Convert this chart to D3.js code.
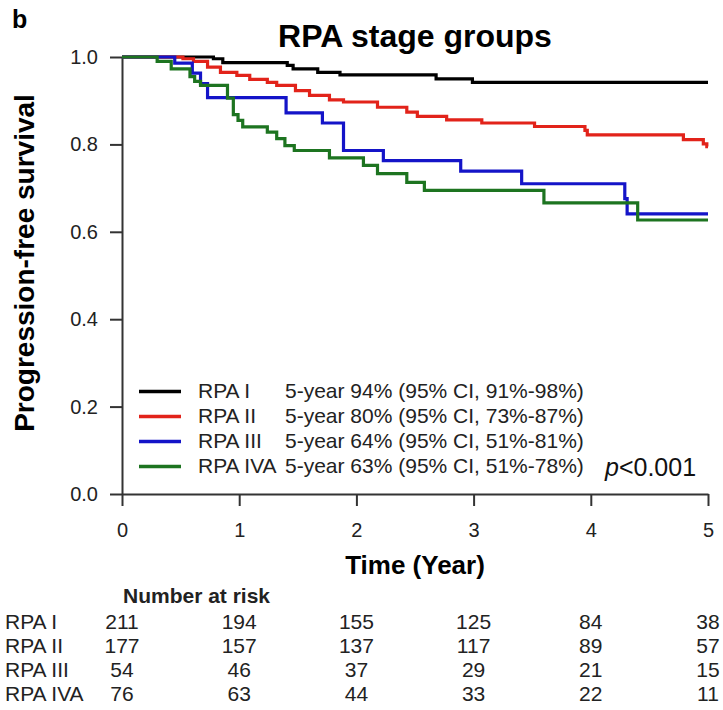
<!DOCTYPE html>
<html>
<head>
<meta charset="utf-8">
<script src="https://cdn.jsdelivr.net/npm/d3@7"></script>
<style>
  body { margin: 0; background: #fff; }
  svg { font-family: "Liberation Sans", Arial, sans-serif; }
  .axis path, .axis line { stroke: #333; stroke-width: 2; }
  .axis text { font-size: 20px; fill: #222; }
</style>
</head>
<body>
<div id="chart"></div>
<script>
// Kaplan-Meier steps: time (years) and survival
const groups = ["RPA I", "RPA II", "RPA III", "RPA IVA"];
const colors = ["#000000", "#e2231a", "#1414c8", "#1d7420"];

const rpa1Time = [0, 0.78, 0.86, 1.41, 1.46, 1.67, 1.86, 2.68, 2.99, 5];
const rpa1Surv = [1, 0.996, 0.987, 0.981, 0.973, 0.965, 0.959, 0.950, 0.942, 0.942];

const rpa2Time = [0, 0.52, 0.61, 0.73, 0.84, 0.98, 1.09, 1.24, 1.32, 1.48, 1.60, 1.77, 1.89, 2.18, 2.43, 2.52, 2.77, 3.07, 3.52, 3.95, 3.97, 4.79, 4.96, 4.99, 5];
const rpa2Surv = [1, 0.996, 0.990, 0.977, 0.965, 0.958, 0.949, 0.942, 0.935, 0.923, 0.912, 0.902, 0.897, 0.885, 0.874, 0.864, 0.856, 0.849, 0.841, 0.832, 0.822, 0.811, 0.801, 0.795, 0.795];

const rpa3Time = [0, 0.45, 0.60, 0.67, 0.73, 1.40, 1.71, 1.89, 2.23, 2.89, 3.41, 4.29, 4.31, 5];
const rpa3Surv = [1, 0.986, 0.963, 0.939, 0.907, 0.872, 0.849, 0.786, 0.763, 0.739, 0.710, 0.676, 0.641, 0.641];

const rpa4Time = [0, 0.30, 0.42, 0.58, 0.62, 0.67, 0.90, 0.95, 0.99, 1.03, 1.24, 1.32, 1.39, 1.47, 1.77, 2.06, 2.18, 2.43, 2.58, 3.60, 4.40, 5];
const rpa4Surv = [1, 0.990, 0.973, 0.955, 0.944, 0.935, 0.906, 0.868, 0.855, 0.840, 0.828, 0.813, 0.797, 0.786, 0.769, 0.752, 0.733, 0.713, 0.695, 0.666, 0.627, 0.627];

const legendText = [
  "5-year 94% (95% CI, 91%-98%)",
  "5-year 80% (95% CI, 73%-87%)",
  "5-year 64% (95% CI, 51%-81%)",
  "5-year 63% (95% CI, 51%-78%)"
];

// Number at risk
const years = [0, 1, 2, 3, 4, 5];
const yTicks = [0, 0.2, 0.4, 0.6, 0.8, 1.0];
const riskRPA1 = [211, 194, 155, 125, 84, 38];
const riskRPA2 = [177, 157, 137, 117, 89, 57];
const riskRPA3 = [54, 46, 37, 29, 21, 15];
const riskRPA4 = [76, 63, 44, 33, 22, 11];

const series = [
  { time: rpa1Time, surv: rpa1Surv },
  { time: rpa2Time, surv: rpa2Surv },
  { time: rpa3Time, surv: rpa3Surv },
  { time: rpa4Time, surv: rpa4Surv }
];
const risk = [riskRPA1, riskRPA2, riskRPA3, riskRPA4];

const width = 723, height = 710;

const svg = d3.select("#chart").append("svg")
    .attr("width", width)
    .attr("height", height);

const x = d3.scaleLinear().domain([0, 5]).range([122, 708]);
const y = d3.scaleLinear().domain([0, 1]).range([494, 57]);

// panel letter and title
svg.append("text")
    .attr("x", 12).attr("y", 28)
    .style("font-size", "25px").style("font-weight", "bold")
    .text("b");

svg.append("text")
    .attr("x", 415).attr("y", 47)
    .attr("text-anchor", "middle")
    .style("font-size", "32px").style("font-weight", "bold")
    .text("RPA stage groups");

// axes
svg.append("g")
    .attr("class", "axis")
    .attr("transform", "translate(122,0)")
    .call(d3.axisLeft(y).tickValues(yTicks).tickFormat(d3.format(".1f"))
        .tickSize(12).tickSizeOuter(0).tickPadding(12));

svg.append("g")
    .attr("class", "axis")
    .attr("transform", "translate(0,494)")
    .call(d3.axisBottom(x).tickValues(years).tickFormat(d3.format("d"))
        .tickSize(12).tickSizeOuter(0).tickPadding(17));

svg.append("text")
    .attr("transform", "translate(34,263) rotate(-90)")
    .attr("text-anchor", "middle")
    .style("font-size", "28px").style("font-weight", "bold")
    .text("Progression-free survival");

svg.append("text")
    .attr("x", 415).attr("y", 574)
    .attr("text-anchor", "middle")
    .style("font-size", "26px").style("font-weight", "bold")
    .text("Time (Year)");

// survival curves
const line = d3.line()
    .x(d => x(d[0]))
    .y(d => y(d[1]))
    .curve(d3.curveStepAfter);

svg.selectAll(".km")
    .data(series)
    .enter()
    .append("path")
    .attr("class", "km")
    .attr("fill", "none")
    .attr("stroke", (d, i) => colors[i])
    .attr("stroke-width", 3.2)
    .attr("d", d => line(d.time.map((t, j) => [t, d.surv[j]])));

// legend
const legend = svg.selectAll(".legend")
    .data(groups)
    .enter()
    .append("g")
    .attr("class", "legend")
    .attr("transform", (d, i) => `translate(0,${398 + i * 25})`);

legend.append("line")
    .attr("x1", 139).attr("x2", 181)
    .attr("y1", -6.5).attr("y2", -6.5)
    .attr("stroke", (d, i) => colors[i])
    .attr("stroke-width", 3.5);

legend.append("text")
    .attr("x", 198)
    .style("font-size", "21px").style("fill", "#222")
    .text(d => d);

legend.append("text")
    .attr("x", 285)
    .style("font-size", "21px").style("fill", "#222")
    .text((d, i) => legendText[i]);

const pval = svg.append("text")
    .attr("x", 605).attr("y", 476)
    .style("font-size", "25px").style("fill", "#111");
pval.append("tspan").style("font-style", "italic").text("p");
pval.append("tspan").text("<0.001");

// number at risk table
svg.append("text")
    .attr("x", 123).attr("y", 603)
    .style("font-size", "21px").style("font-weight", "bold").style("fill", "#222")
    .text("Number at risk");

const rows = svg.selectAll(".riskrow")
    .data(groups)
    .enter()
    .append("g")
    .attr("class", "riskrow")
    .attr("transform", (d, i) => `translate(0,${629 + i * 24})`)
    .style("font-size", "21px").style("fill", "#222");

rows.append("text")
    .attr("x", 5)
    .text(d => d);

rows.selectAll(".n")
    .data((d, i) => risk[i].map((n, j) => ({ n: n, t: years[j] })))
    .enter()
    .append("text")
    .attr("class", "n")
    .attr("x", d => x(d.t))
    .attr("text-anchor", "middle")
    .text(d => d.n);
</script>
</body>
</html>
